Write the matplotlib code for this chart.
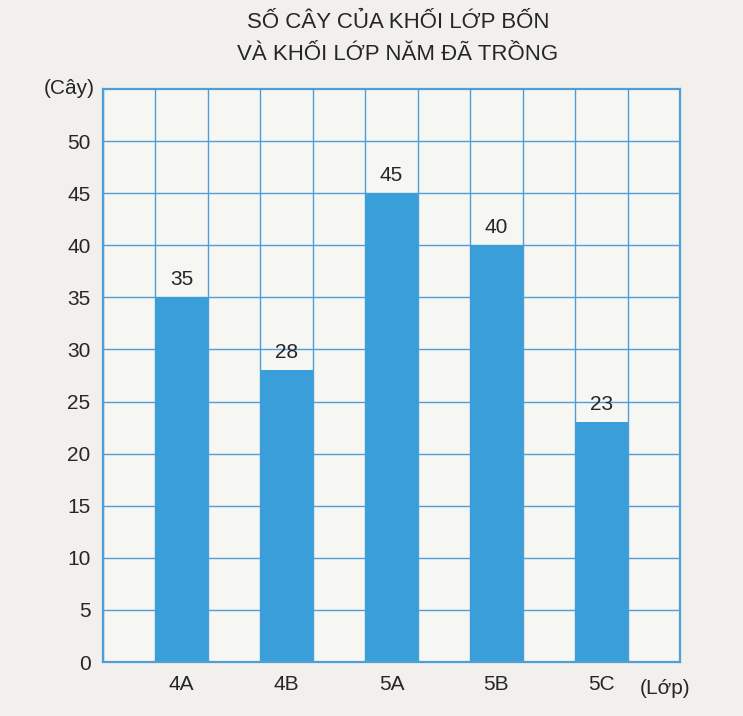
import matplotlib
matplotlib.use("Agg")
import matplotlib.pyplot as plt

classes = ["4A", "4B", "5A", "5B", "5C"]
trees = [35, 28, 45, 40, 23]
yticks = [0, 5, 10, 15, 20, 25, 30, 35, 40, 45, 50]
title_lines = ["SỐ CÂY CỦA KHỐI LỚP BỐN", "VÀ KHỐI LỚP NĂM ĐÃ TRỒNG"]

plt.rcParams['font.family'] = ['Liberation Sans', 'DejaVu Sans']

paper = "#f1f0ec"
grid_c = "#4f9fd6"
bar_c = "#3a9fd9"
text_c = "#262626"

fig = plt.figure(figsize=(7.43, 7.16), dpi=100, facecolor=paper)
ax = fig.add_axes([103/743, 1 - 662/716, (680-103)/743, (662-89)/716])
ax.set_facecolor("#f6f6f3")

xpos = [1.5 + 2*i for i in range(len(classes))]
ax.set_xlim(0, 11)
ax.set_ylim(0, 55)

ax.set_xticks(xpos)
ax.set_xticklabels(classes, fontsize=15, color=text_c)
ax.set_xticks(list(range(12)), minor=True)
ax.set_yticks(yticks)
ax.set_yticklabels([str(t) for t in yticks], fontsize=15, color=text_c)
ax.set_yticks([55], minor=True)
ax.grid(False)
ax.grid(True, which='minor', axis='x', color=grid_c, lw=1.0)
ax.grid(True, which='major', axis='y', color=grid_c, lw=1.0)
ax.set_axisbelow(True)
ax.tick_params(which='both', length=0)
ax.tick_params(axis='both', which='major', pad=9)

ax.bar(xpos, trees, width=1.0, color=bar_c, zorder=2)
for x, v in zip(xpos, trees):
    ax.text(x, v + 0.8, str(v), ha='center', va='bottom', fontsize=15, color=text_c, zorder=3)

for s in ax.spines.values():
    s.set_color(grid_c)
    s.set_linewidth(1.6)

fig.text(95/743, 1 - 89/716, "(Cây)", ha='right', va='center', fontsize=15, color=text_c)
fig.text(665/743, 1 - 688/716, "(Lớp)", ha='center', va='center', fontsize=15, color=text_c)
fig.text(398/743, 1 - 22/716, title_lines[0], ha='center', va='center', fontsize=16, color=text_c)
fig.text(398/743, 1 - 55/716, title_lines[1], ha='center', va='center', fontsize=16, color=text_c)

fig.savefig("out.png", dpi=100, facecolor=paper)
